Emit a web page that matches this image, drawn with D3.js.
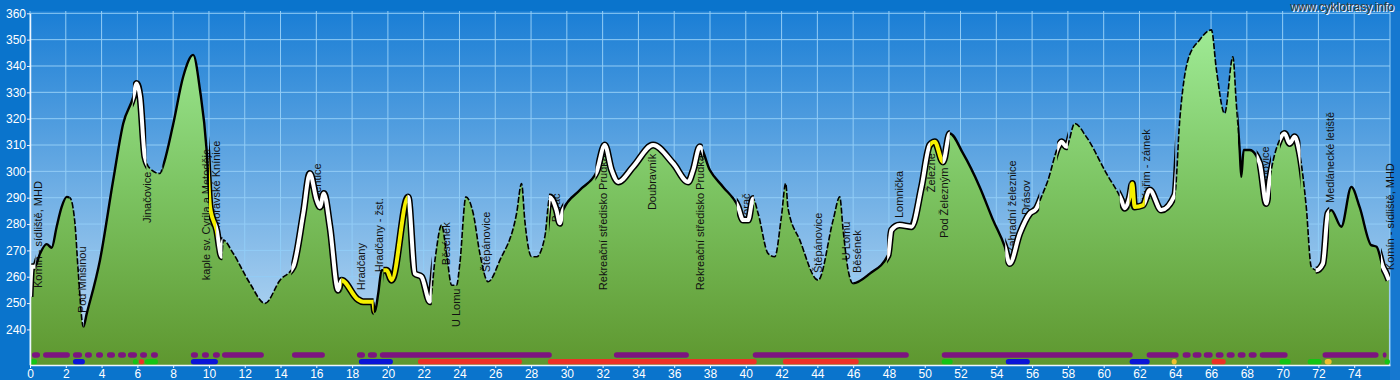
<!DOCTYPE html>
<html>
<head>
<meta charset="utf-8">
<script src="https://d3js.org/d3.v7.min.js"></script>
<style>
  body { margin: 0; background: #0a74cc; }
  svg { display: block; font-family: "Liberation Sans", Arial, sans-serif; }
  .tick text { fill: #fff; font-size: 12px; }
  .tick line, .domain { stroke: #eef6ff; }
  .place { font-size: 11px; fill: #111; }
</style>
</head>
<body>
<script>
// elevation profile (km, m a.s.l.)
var profileKm = [0, 0.1, 0.28, 0.56, 0.93, 1.21, 1.49, 1.77, 2.05, 2.23, 2.51, 2.7, 2.98, 3.17, 3.91, 4.65, 5.21, 5.77, 5.96, 6.15,
  6.42, 6.7, 7.26, 7.45, 8.01, 8.56, 9.12, 9.5, 9.87, 10.06, 10.43, 10.71, 10.8, 11.36, 12.29, 13.13, 13.97, 14.71, 15.27, 15.64,
  16.02, 16.2, 16.42, 16.76, 17.22, 17.41, 18.3, 18.62, 19.18, 19.27, 19.46, 19.65, 19.93, 20.21, 21.13, 21.51, 21.88, 22.35, 22.63, 23.0,
  23.28, 23.56, 23.84, 24.02, 24.36, 24.77, 25.14, 25.6, 26.26, 27.19, 27.47, 27.65, 28.03, 28.31, 28.77, 29.05, 29.42, 29.61, 29.79, 30.73,
  31.66, 32.12, 32.5, 32.87, 33.7, 34.82, 35.94, 36.78, 37.06, 37.43, 37.99, 38.73, 39.57, 39.85, 40.13, 40.41, 40.69, 41.25, 41.62, 41.99,
  42.23, 42.36, 43.02, 44.04, 44.88, 45.25, 45.44, 45.72, 45.99, 46.93, 47.95, 48.14, 48.6, 49.26, 49.82, 50.28, 50.56, 51.02, 51.4, 52.14,
  53.07, 53.82, 54.47, 54.75, 55.31, 55.87, 56.24, 56.52, 56.89, 57.45, 57.64, 57.92, 58.38, 59.03, 60.15, 60.99, 61.17, 61.45, 61.6, 61.73,
  62.2, 62.57, 63.22, 63.97, 64.25, 64.71, 65.36, 66.02, 66.3, 66.76, 67.22, 67.41, 67.6, 67.69, 67.82, 68.16, 68.72, 69.09, 69.27, 69.83,
  70.11, 70.39, 70.67, 70.95, 71.32, 71.6, 71.88, 72.25, 72.53, 72.72, 73.28, 73.84, 74.3, 74.95, 75.25, 75.6, 75.79, 75.94];
var profileElev = [252.4, 263.8, 263.8, 268.8, 272.4, 271, 279, 286.5, 290.3, 290, 280.4, 261.4, 241, 246, 266.3, 296.7, 318.2, 328.3, 333.4, 328.3,
  305.5, 301.1, 299.2, 302.4, 318.2, 335.9, 344.2, 330.9, 308.1, 286.5, 277.7, 267.6, 273.9, 268.8, 257.5, 249.9, 258.7, 263.8, 284, 299.2,
  289.1, 286.5, 291.6, 279, 254.9, 258.7, 251.5, 250.5, 250.5, 246.7, 253.7, 262.5, 262.5, 258.7, 290.3, 261.2, 260, 250.5, 266.3, 279.6,
  268.8, 256.8, 256.8, 265, 290.3, 284, 268.8, 258.1, 266.3, 284, 295.4, 281.4, 267.6, 267.6, 275.2, 290.3, 285.3, 280.3, 285.3, 292.9,
  299.8, 310, 300.5, 296, 301.7, 310, 303, 296, 300.5, 309.3, 300.5, 294.1, 286.5, 281.5, 281.5, 289.7, 284, 268.8, 267.6, 282.8,
  295.4, 286, 273.9, 258.7, 281.5, 290.3, 277.7, 262.5, 257.5, 261.2, 268.2, 277.7, 279.6, 279, 294.1, 310, 311.2, 303.6, 314.4, 306.8,
  294.1, 281.5, 271.4, 265, 276.4, 284, 285.9, 290.3, 296.7, 309.3, 311.2, 309.3, 318.2, 313.1, 299.2, 289.1, 286, 290.3, 295.4, 286.5,
  287.2, 292.9, 285.3, 291, 319.5, 342.3, 349.9, 353.7, 338.5, 322, 343.5, 325.8, 308.1, 297.9, 308.1, 308.1, 303, 287.8, 296.7, 311.9,
  314.4, 310.6, 313.1, 306.8, 286.5, 263.8, 262.5, 265, 284, 285.3, 279, 294.1, 286.5, 272, 271.4, 263.8, 261.2, 258.7];

// surface type of the track along the route [from km, to km, style]
var lineSegs = [
  [0, 0.3, "white"], [0.3, 2.2, "solid"], [2.2, 3.0, "dash"], [3.0, 5.75, "solid"], [5.75, 6.5, "white"],
  [6.5, 7.4, "dash"], [7.4, 10.0, "solid"], [10.0, 10.4, "yellow"], [10.4, 10.75, "white"], [10.75, 14.6, "dash"],
  [14.6, 17.4, "white"], [17.4, 19.2, "yellow"], [19.2, 19.75, "solid"], [19.75, 21.1, "yellow"], [21.1, 22.45, "white"],
  [22.45, 29.0, "dash"], [29.0, 29.8, "white"], [29.8, 31.6, "solid"], [31.6, 37.6, "white"], [37.6, 39.5, "solid"],
  [39.5, 40.45, "white"], [40.45, 46.0, "dash"], [46.0, 47.9, "solid"], [47.9, 50.3, "white"], [50.3, 51.0, "yellow"],
  [51.0, 51.4, "white"], [51.4, 54.5, "solid"], [54.5, 56.4, "white"], [56.4, 57.4, "dash"], [57.4, 58.0, "white"],
  [58.0, 60.9, "dash"], [60.9, 61.45, "white"], [61.45, 62.3, "yellow"], [62.3, 64.0, "white"], [64.0, 67.5, "dash"],
  [67.5, 68.55, "solid"], [68.55, 69.35, "white"], [69.35, 69.85, "dash"], [69.85, 71.0, "white"], [71.0, 71.85, "dash"],
  [71.85, 72.6, "white"], [72.6, 75.5, "solid"], [75.5, 76, "white"]
];

// place names: name, km, elevation where the text starts
var placeNames = ["Komín - sídliště, MHD", "Pod Mnišinou", "Jinačovice", "kaple sv. Cyrila a Metoděje", "Moravské Knínice", "Sentice",
  "Hradčany", "Hradčany - žst.", "Běsének", "U Lomu", "Štěpánovice", "Borač", "Rekreační středisko Prudká", "Doubravník",
  "Rekreační středisko Prudká", "Borač", "Štěpánovice", "U Lomu", "Běsének", "Lomnička", "Železné", "Pod Železným",
  "Zahradní železnice", "Drásov", "Kuřim - zámek", "Ivanovice", "Medlánecké letiště", "Komín - sídliště, MHD"];
var placeKm = [0.45, 2.93, 6.56, 9.83, 10.42, 16.06, 18.49, 19.5, 23.24, 23.8, 25.47, 29.41, 32.01, 34.75,
  37.43, 40.0, 44.02, 45.59, 46.2, 48.55, 50.34, 51.06, 54.86, 55.64, 62.4, 69.0, 72.68, 76.03];
var placeElev = [255.7, 246.2, 280.4, 258.7, 278.5, 289.1, 254.9, 261.7, 264.4, 240.9, 261.7, 280.7, 254.9, 285.3,
  254.9, 280.7, 261.4, 266.3, 261.4, 282.3, 292.1, 274.7, 268.9, 283.4, 289.1, 291.8, 288.0, 262.5];

// route category bars (upper row: purple; lower row: coloured)
var purpleBars = [[0.11, 0.56], [0.73, 2.23], [2.4, 2.91], [3.07, 3.46], [3.69, 4.08], [4.3, 4.75], [4.92, 5.36], [5.47, 5.98],
  [6.15, 6.54], [6.76, 7.15], [8.99, 9.39], [9.61, 10.0], [10.22, 10.61], [10.73, 13.07], [14.64, 16.48], [18.27, 18.72],
  [18.88, 19.39], [19.55, 29.16], [32.63, 36.82], [40.39, 49.11], [50.95, 61.62], [62.4, 64.19], [64.41, 64.86], [64.97, 65.47],
  [65.59, 66.09], [66.26, 66.7], [66.87, 67.32], [67.49, 67.93], [68.1, 68.55], [68.72, 70.28], [72.23, 75.36], [75.59, 75.81]];
var lowerBars = [[0, 0.39, "green"], [2.4, 3.07, "blue"], [5.75, 6.03, "green"], [6.09, 6.37, "red"], [6.42, 7.15, "green"],
  [8.99, 10.5, "blue"], [18.38, 20.28, "blue"], [21.68, 27.49, "red"], [28.94, 40.61, "red"], [42.07, 46.31, "red"],
  [50.95, 51.56, "green"], [54.53, 55.87, "blue"], [61.45, 62.57, "blue"], [63.8, 64.08, "yellow"], [66.03, 66.82, "red"],
  [69.83, 70.45, "green"], [71.4, 72.18, "green"], [72.35, 72.74, "yellow"], [75.7, 76.0, "green"]];

var xTicks = d3.range(0, 76, 2);
var yTicks = d3.range(240, 361, 10);

var barColor = { green: "#14c414", blue: "#0b14d8", red: "#ec3226", yellow: "#f0c02e" };

var W = 1400, H = 380;
var plotTop = 11, plotBottom = 365;
var x = d3.scaleLinear().domain([0, 76]).range([30, 1390]);
var y = d3.scaleLinear().domain([226.5, 360]).range([365, 13.3]);

var svg = d3.select("body").append("svg").attr("width", W).attr("height", H);
var defs = svg.append("defs");

var sky = defs.append("linearGradient").attr("id", "sky")
  .attr("gradientUnits", "userSpaceOnUse").attr("x1", 0).attr("x2", 0).attr("y1", plotTop).attr("y2", plotBottom);
sky.append("stop").attr("offset", 0).attr("stop-color", "#1a7ed5");
sky.append("stop").attr("offset", 1).attr("stop-color", "#c2def4");

var grass = defs.append("linearGradient").attr("id", "grass")
  .attr("gradientUnits", "userSpaceOnUse").attr("x1", 0).attr("x2", 0).attr("y1", 13).attr("y2", plotBottom);
grass.append("stop").attr("offset", 0).attr("stop-color", "#a2ee9a");
grass.append("stop").attr("offset", 0.5).attr("stop-color", "#7cc462");
grass.append("stop").attr("offset", 1).attr("stop-color", "#5e972f");

svg.append("rect").attr("width", W).attr("height", H).attr("fill", "#0a74cc");
svg.append("rect").attr("x", 1390).attr("y", plotTop).attr("width", 10).attr("height", H - plotTop).attr("fill", "#1678d0");
svg.append("rect").attr("x", x(0)).attr("y", plotTop).attr("width", x(76) - x(0)).attr("height", plotBottom - plotTop)
  .attr("fill", "url(#sky)");

// grid
svg.append("g").selectAll("line").data(xTicks.concat([76])).enter().append("line")
  .attr("x1", d => x(d)).attr("x2", d => x(d)).attr("y1", plotTop).attr("y2", plotBottom)
  .attr("stroke", "#92cdf6").attr("stroke-width", 1);
svg.append("g").selectAll("line").data(yTicks).enter().append("line")
  .attr("x1", x(0)).attr("x2", x(76)).attr("y1", d => y(d)).attr("y2", d => y(d))
  .attr("stroke", "#92cdf6").attr("stroke-width", 1);

var pts = profileKm.map((k, i) => [k, profileElev[i]]);

var area = d3.area().curve(d3.curveMonotoneX).x(d => x(d[0])).y0(plotBottom).y1(d => y(d[1]));
var line = d3.line().curve(d3.curveMonotoneX).x(d => x(d[0])).y(d => y(d[1]));

svg.append("path").datum(pts).attr("d", area).attr("fill", "url(#grass)");

// place labels
svg.append("g").selectAll("text").data(placeNames).enter().append("text")
  .attr("class", "place")
  .attr("transform", (d, i) => "translate(" + x(placeKm[i]) + "," + y(placeElev[i]) + ") rotate(-90)")
  .attr("dy", "0.35em")
  .text(d => d);

// profile line, one clipped copy per surface segment
lineSegs.forEach(function(s, i) {
  defs.append("clipPath").attr("id", "seg" + i).append("rect")
    .attr("x", x(s[0])).attr("y", 0).attr("width", x(s[1]) - x(s[0])).attr("height", H);
});
var thin = svg.append("g"), thick = svg.append("g");
lineSegs.forEach(function(s, i) {
  if (s[2] === "solid" || s[2] === "dash") {
    thin.append("path").datum(pts).attr("d", line).attr("clip-path", "url(#seg" + i + ")")
      .attr("fill", "none").attr("stroke", "#000")
      .attr("stroke-width", s[2] === "solid" ? 2.4 : 1.6)
      .attr("stroke-dasharray", s[2] === "dash" ? "6,2" : null)
      .attr("stroke-linejoin", "round");
  }
});
lineSegs.forEach(function(s, i) {
  if (s[2] === "white" || s[2] === "yellow") {
    thick.append("path").datum(pts).attr("d", line).attr("clip-path", "url(#seg" + i + ")")
      .attr("fill", "none").attr("stroke", "#000").attr("stroke-width", 7).attr("stroke-linejoin", "round");
  }
});
lineSegs.forEach(function(s, i) {
  if (s[2] === "white" || s[2] === "yellow") {
    thick.append("path").datum(pts).attr("d", line).attr("clip-path", "url(#seg" + i + ")")
      .attr("fill", "none").attr("stroke", s[2] === "white" ? "#fff" : "#f5f000")
      .attr("stroke-width", 4).attr("stroke-linejoin", "round");
  }
});

// bars at the bottom
svg.append("g").selectAll("rect").data(purpleBars).enter().append("rect")
  .attr("x", d => x(d[0])).attr("width", d => x(d[1]) - x(d[0]))
  .attr("y", 352.3).attr("height", 5.4).attr("rx", 2.7).attr("fill", "#7c1480");
svg.append("g").selectAll("rect").data(lowerBars).enter().append("rect")
  .attr("x", d => x(d[0])).attr("width", d => x(d[1]) - x(d[0]))
  .attr("y", 359).attr("height", 5.4).attr("rx", 2.7).attr("fill", d => barColor[d[2]]);

// axes
svg.append("g").attr("transform", "translate(0," + plotBottom + ")")
  .call(d3.axisBottom(x).tickValues(xTicks).tickSize(3).tickPadding(1).tickSizeOuter(0));
svg.append("g").attr("transform", "translate(" + x(0) + ",0)")
  .call(d3.axisLeft(y).tickValues(yTicks).tickSize(3).tickPadding(1).tickSizeOuter(0));
svg.selectAll(".domain").attr("stroke-width", 1.5);

// watermark
svg.append("text").attr("x", 1395).attr("y", 12).attr("text-anchor", "end")
  .attr("font-size", 12).attr("fill", "#fff").text("www.cyklotrasy.info");
svg.append("text").attr("x", 1394).attr("y", 11).attr("text-anchor", "end")
  .attr("font-size", 12).attr("fill", "#3a3a3a").text("www.cyklotrasy.info");
</script>
</body>
</html>
